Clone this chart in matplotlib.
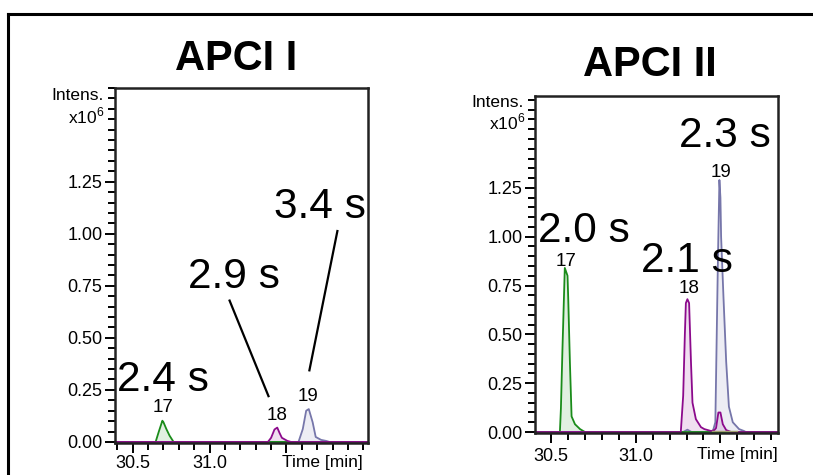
import matplotlib
matplotlib.use('Agg')
import matplotlib.pyplot as plt
from matplotlib.ticker import MultipleLocator, FixedLocator
from matplotlib.lines import Line2D

plt.rcParams['font.family'] = ['Liberation Sans', 'DejaVu Sans']
plt.rcParams['mathtext.fontset'] = 'custom'
plt.rcParams['mathtext.rm'] = 'Liberation Sans'

# --- APCI I (intensity x10^6, time in min)
t17_a = [30.38, 30.649, 30.67, 30.693, 30.70, 30.719, 30.74, 30.766, 32.05]
i17_a = [0, 0, 0.05, 0.102, 0.095, 0.062, 0.03, 0, 0]
t18_a = [30.38, 31.379, 31.40, 31.422, 31.44, 31.455, 31.47, 31.506, 31.53, 32.05]
i18_a = [0, 0, 0.02, 0.06, 0.069, 0.043, 0.02, 0.005, 0, 0]
t19_a = [30.38, 31.578, 31.606, 31.628, 31.645, 31.67, 31.69, 31.725, 31.758, 31.78, 32.05]
i19_a = [0, 0, 0.062, 0.15, 0.158, 0.095, 0.024, 0.01, 0.005, 0, 0]

# --- APCI II
t17_b = [30.38, 30.552, 30.558, 30.567, 30.581, 30.597, 30.601, 30.611, 30.621, 30.641, 30.671, 30.70, 31.9]
i17_b = [0, 0, 0.12, 0.42, 0.84, 0.80, 0.69, 0.36, 0.08, 0.04, 0.015, 0, 0]
t18_b = [30.38, 31.266, 31.28, 31.29, 31.296, 31.305, 31.315, 31.326, 31.335, 31.355, 31.385, 31.405,
         31.445, 31.464, 31.474, 31.488, 31.50, 31.514, 31.534, 31.564, 31.9]
i18_b = [0, 0, 0.185, 0.50, 0.66, 0.68, 0.66, 0.36, 0.15, 0.066, 0.025, 0.015,
         0.005, 0.01, 0.02, 0.10, 0.10, 0.04, 0.01, 0, 0]
t19_b = [30.38, 31.28, 31.305, 31.33, 31.454, 31.47, 31.485, 31.494, 31.50, 31.504, 31.518, 31.534,
         31.55, 31.573, 31.61, 31.64, 31.65, 31.9]
i19_b = [0, 0, 0.012, 0, 0, 0.05, 0.87, 1.29, 1.20, 1.00, 0.69, 0.36,
         0.13, 0.05, 0.015, 0.005, 0, 0]
t_olive = [31.45, 31.60]
i_olive = [0.004, 0.004]

peak_lbl = ['17', '18', '19']
times_a = ['2.4 s', '2.9 s', '3.4 s']
times_b = ['2.0 s', '2.1 s', '2.3 s']

GREEN = '#1a8c1a'
PURPLE = '#8c0a8c'
BLUE = '#7676aa'

fig = plt.figure(figsize=(8.13, 4.75), dpi=100)

# frame lines
fig.add_artist(Line2D([8/813, 8/813], [0, 1 - 14/475], color='black', lw=2.2))
fig.add_artist(Line2D([8/813, 1], [1 - 14/475, 1 - 14/475], color='black', lw=2.2))

ax1 = fig.add_axes([115/813, 1 - 443/475, 253/813, 355/475])
ax2 = fig.add_axes([535/813, 1 - 433/475, 243/813, 337/475])


def trace(ax, t, y, c):
    ax.fill_between(t, 0, y, color=c, alpha=0.13, lw=0)
    ax.plot(t, y, color=c, lw=1.3)


def style(ax, xlim, ylim, xticks_minor, xpad):
    ax.set_xlim(*xlim)
    ax.set_ylim(*ylim)
    ax.yaxis.set_major_locator(FixedLocator([0, 0.25, 0.5, 0.75, 1.0, 1.25]))
    ax.yaxis.set_minor_locator(MultipleLocator(0.05))
    ax.set_yticklabels(['0.00', '0.25', '0.50', '0.75', '1.00', '1.25'])
    ax.xaxis.set_major_locator(FixedLocator([30.5, 31.0, 31.5]))
    ax.xaxis.set_minor_locator(FixedLocator(xticks_minor))
    ax.set_xticklabels(['30.5', '31.0', ''])
    ax.tick_params(which='major', direction='out', length=7.5, width=1.4, labelsize=13, pad=1.5)
    ax.tick_params(axis='x', which='major', pad=xpad)
    ax.tick_params(which='minor', direction='out', length=5, width=1.4)
    for s in ax.spines.values():
        s.set_linewidth(1.8)
        s.set_color('#222222')


# APCI I
trace(ax1, t19_a, i19_a, BLUE)
trace(ax1, t17_a, i17_a, GREEN)
trace(ax1, t18_a, i18_a, PURPLE)
style(ax1, (30.385, 32.03), (-0.005, 1.70),
      [30.4, 30.6, 30.7, 30.8, 30.9, 31.1, 31.2, 31.3, 31.4, 31.6, 31.7, 31.8, 31.9, 32.0], 1.5)
for x, y, s in zip([30.695, 31.44, 31.643], [0.143, 0.105, 0.196], peak_lbl):
    ax1.text(x, y, s, ha='center', va='baseline', fontsize=13.5)
for x, y, s in zip([30.40, 30.857, 31.422], [0.244, 0.741, 1.076], times_a):
    ax1.text(x, y, s, ha='left', va='baseline', fontsize=30.5)
ax1.plot([31.13, 31.383], [0.679, 0.220], color='black', lw=1.6)
ax1.plot([31.831, 31.649], [1.013, 0.344], color='black', lw=1.6)

# APCI II
trace(ax2, t19_b, i19_b, BLUE)
trace(ax2, t17_b, i17_b, GREEN)
trace(ax2, t18_b, i18_b, PURPLE)
ax2.plot(t_olive, i_olive, color='#a0a070', lw=1.0)
style(ax2, (30.405, 31.84), (-0.005, 1.72),
      [30.6, 30.7, 30.8, 30.9, 31.1, 31.2, 31.3, 31.4, 31.6, 31.7, 31.8], 3.5)
for x, y, s in zip([30.589, 31.315, 31.506], [0.852, 0.714, 1.306], peak_lbl):
    ax2.text(x, y, s, ha='center', va='baseline', fontsize=13.5)
for x, y, s in zip([30.423, 31.03, 31.256], [0.975, 0.821, 1.459], times_b):
    ax2.text(x, y, s, ha='left', va='baseline', fontsize=30.5)

# titles and axis captions
fig.text(236/813, 1 - 70/475, 'APCI I', ha='center', va='baseline', fontsize=30, fontweight='bold')
fig.text(650/813, 1 - 76/475, 'APCI II', ha='center', va='baseline', fontsize=30, fontweight='bold')
fig.text(104/813, 1 - 100/475, 'Intens.', ha='right', va='baseline', fontsize=12.5)
fig.text(104/813, 1 - 123/475, 'x10$^{6}$', ha='right', va='baseline', fontsize=12.5)
fig.text(524/813, 1 - 107/475, 'Intens.', ha='right', va='baseline', fontsize=12.5)
fig.text(525/813, 1 - 129/475, 'x10$^{6}$', ha='right', va='baseline', fontsize=12.5)
fig.text(282/813, 1 - 455/475, 'Time [min]', ha='left', va='top', fontsize=12.5)
fig.text(697/813, 1 - 447/475, 'Time [min]', ha='left', va='top', fontsize=12.5)

fig.savefig('out.png', dpi=100)
